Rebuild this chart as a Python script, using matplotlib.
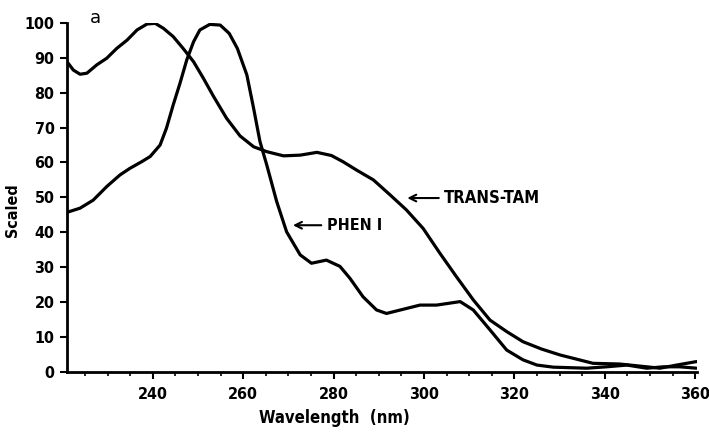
import matplotlib.pyplot as plt
from matplotlib.ticker import MultipleLocator

# wavelength (nm) / scaled absorbance
trans_tam_x = [221, 222.4, 223.9, 225.4, 227.6, 229.8, 232, 234.3, 236.5, 238.7,
               240.5, 242.3, 244.5, 246.7, 249, 251.2, 253.4, 256.3, 259.3, 262.3,
               265.2, 268.9, 272.6, 276.3, 279.5, 282.1, 285.1, 288.8, 292.5, 296.1,
               299.8, 303.5, 307.2, 310.9, 314.6, 318.3, 321.9, 326, 330.1, 337.4,
               343.3, 349.3, 352.2, 355.9, 360.3]
trans_tam_y = [88.9, 86.5, 85.3, 85.6, 88.0, 89.9, 92.7, 95.1, 98.0, 99.7,
               99.9, 98.5, 96.1, 92.7, 88.9, 84.1, 79.0, 72.7, 67.6, 64.5,
               63.1, 61.9, 62.1, 62.9, 62.0, 60.2, 57.8, 55.0, 50.7, 46.4,
               41.1, 34.0, 27.2, 20.6, 14.8, 11.5, 8.6, 6.5, 4.8, 2.4,
               2.2, 1.4, 1.0, 1.9, 2.9]

phen_x = [221, 223.9, 226.8, 229.8, 232.7, 234.9, 237.5, 239.4, 241.6, 243,
          244.5, 246, 247.5, 249, 250.4, 252.6, 254.9, 256.9, 258.7, 260.8,
          262.3, 263.7, 265.2, 267.4, 269.6, 272.6, 275.1, 278.4, 281.4, 283.6,
          286.5, 289.5, 291.7, 295.4, 299.1, 302.8, 308, 310.9, 314.6, 318.3,
          321.9, 325, 328.6, 336, 340.4, 344.9, 349.3, 353, 356.6, 360.3]
phen_y = [45.7, 46.9, 49.2, 53.1, 56.4, 58.3, 60.2, 61.7, 65.0, 69.8,
          76.5, 82.7, 89.4, 94.6, 98.0, 99.6, 99.4, 97.0, 92.7, 85.1,
          75.5, 66.0, 59.3, 48.8, 40.1, 33.5, 31.1, 32.0, 30.2, 26.8,
          21.5, 17.7, 16.7, 17.9, 19.1, 19.1, 20.1, 17.7, 12.0, 6.2,
          3.4, 1.9, 1.3, 1.0, 1.4, 1.9, 1.0, 1.4, 1.4, 1.0]

font = ['DejaVu Sans']

fig = plt.figure(figsize=(7.09, 4.32), dpi=100)
ax = fig.add_axes([0.0945, 0.1396, 0.8885, 0.8072])

ax.plot(trans_tam_x, trans_tam_y, color='black', lw=2.3,
        solid_capstyle='round', solid_joinstyle='round')
ax.plot(phen_x, phen_y, color='black', lw=2.3,
        solid_capstyle='round', solid_joinstyle='round')

ax.set_xlim(221, 360.4)
ax.set_ylim(0, 100)
ax.set_xticks([240, 260, 280, 300, 320, 340, 360])
ax.xaxis.set_minor_locator(MultipleLocator(5))
ax.yaxis.set_major_locator(MultipleLocator(10))

for s in ['top', 'right']:
    ax.spines[s].set_visible(False)
for s in ['left', 'bottom']:
    ax.spines[s].set_linewidth(2)

ax.tick_params(axis='both', which='major', direction='out', length=5, width=1.5,
               labelsize=11.5, pad=4)
ax.tick_params(axis='x', which='minor', direction='out', length=3, width=1.2)
ax.tick_params(axis='x', which='major', pad=6)
for lbl in ax.get_xticklabels() + ax.get_yticklabels():
    lbl.set_fontweight('bold')
    lbl.set_family(font)
    lbl.set_fontstretch('condensed')

ax.set_xlabel('Wavelength  (nm)', fontsize=12, fontweight='bold', family=font,
              fontstretch='condensed')
ax.set_ylabel('Scaled', fontsize=11.5, fontweight='bold', family=font,
              fontstretch='condensed')
ax.xaxis.set_label_coords(0.425, -0.108)
ax.yaxis.set_label_coords(-0.0746, 0.464)

arrow = dict(arrowstyle='->', color='black', lw=1.5, shrinkA=2, shrinkB=0,
             mutation_scale=12)
ax.annotate('PHEN I', xy=(271, 42), xytext=(278.5, 42), fontsize=11.5,
            fontweight='bold', family=font, fontstretch='condensed',
            va='center', arrowprops=arrow)
ax.annotate('TRANS-TAM', xy=(296.3, 49.8), xytext=(304.5, 49.8), fontsize=12,
            fontweight='bold', family=font, fontstretch='condensed',
            va='center', arrowprops=arrow)

fig.text(0.127, 0.958, 'a', fontsize=13, family='DejaVu Sans', va='center')

fig.savefig('out.png', dpi=100)
